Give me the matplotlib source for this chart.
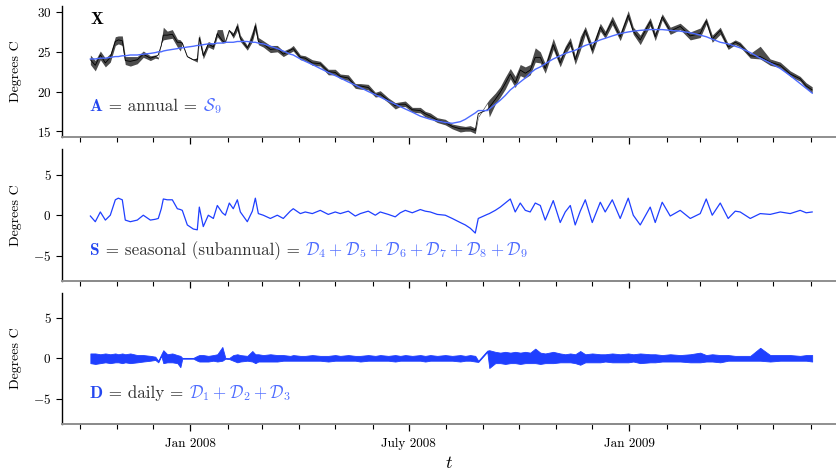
import numpy as np
import matplotlib
matplotlib.use("Agg")
import matplotlib.pyplot as plt
import matplotlib.dates as mdates
import matplotlib.transforms as mtransforms
from datetime import datetime

plt.rcParams.update({
    "font.family": "serif",
    "font.serif": ["cmr10"],
    "mathtext.fontset": "cm",
    "axes.formatter.use_mathtext": True,
})

# days since 2008-01-01
day = [-83.3, -79.2, -75.0, -70.8, -66.7, -62.5, -60.0, -56.7, -54.2, -50.0,
       -44.2, -39.2, -33.3, -29.2, -26.7, -24.2, -22.5, -19.2, -15.0, -10.8,
       -8.3, -6.7, -2.5, 2.5, 5.8, 7.5, 10.8, 15.0, 19.2, 22.5,
       26.7, 29.2, 32.5, 35.8, 39.2, 41.7, 47.5, 51.7, 54.2, 56.7,
       60.8, 66.7, 72.5, 77.5, 83.3, 85.8, 91.7, 95.8, 101.7, 108.3,
       115.0, 120.8, 125.0, 131.7, 137.5, 141.7, 148.3, 154.2, 158.3, 165.0,
       170.8, 175.0, 179.2, 185.0, 191.7, 195.8, 200.0, 205.8, 212.5, 218.3,
       225.0, 229.2, 233.3, 237.5, 240.0, 247.5, 249.2, 254.2, 258.3, 262.5,
       266.7, 270.8, 275.0, 279.2, 283.3, 287.5, 291.7, 295.8, 302.5, 308.3,
       312.5, 316.7, 320.8, 325.0, 329.2, 335.0, 341.7, 345.8, 351.7, 358.3,
       365.0, 369.2, 375.0, 383.3, 387.5, 393.3, 400.0, 408.3, 416.7, 425.0,
       430.0, 435.0, 441.7, 448.3, 454.2, 458.3, 466.7, 475.0, 483.3, 491.7,
       500.0, 508.3, 513.3, 518.3]

# annual component (deg C)
annual = [24.1, 24.1, 24.2, 24.2, 24.3, 24.4, 24.4, 24.5, 24.5, 24.6,
          24.6, 24.7, 24.8, 24.9, 25.0, 25.0, 25.1, 25.2, 25.3, 25.4,
          25.5, 25.5, 25.6, 25.7, 25.8, 25.8, 25.9, 26.0, 26.0, 26.1,
          26.1, 26.2, 26.2, 26.2, 26.3, 26.3, 26.3, 26.2, 26.2, 26.1,
          26.0, 25.7, 25.4, 25.1, 24.7, 24.6, 24.1, 23.8, 23.4, 22.9,
          22.4, 22.0, 21.7, 21.2, 20.8, 20.5, 20.0, 19.6, 19.3, 18.8,
          18.4, 18.1, 17.8, 17.4, 16.9, 16.7, 16.5, 16.3, 16.1, 16.0,
          16.2, 16.5, 16.9, 17.3, 17.6, 17.6, 17.8, 18.4, 18.9, 19.5,
          20.2, 20.7, 21.2, 21.7, 22.3, 22.8, 23.1, 23.5, 24.1, 24.5,
          24.8, 25.0, 25.2, 25.5, 25.8, 26.1, 26.5, 26.7, 27.0, 27.3,
          27.5, 27.6, 27.7, 27.8, 27.8, 27.8, 27.7, 27.6, 27.4, 27.1,
          26.9, 26.6, 26.2, 26.0, 25.7, 25.5, 24.9, 24.2, 23.6, 22.9,
          22.0, 21.0, 20.4, 19.8]

# seasonal (subannual) component (deg C)
seasonal = [-0.1, -0.8, 0.4, -0.6, 0.0, 1.9, 2.1, 1.9, -0.6, -0.8,
            -0.6, 0.0, -0.6, -0.5, -0.4, 0.8, 2.0, 1.9, 1.9, 0.8,
            0.7, 0.6, -1.2, -1.7, -1.8, 1.0, -1.4, 0.0, -0.4, 1.2,
            0.3, 0.0, 1.5, 0.8, 1.9, 0.4, -0.8, 0.5, 2.1, 0.2,
            0.0, -0.4, 0.0, -0.4, 0.5, 0.8, 0.2, 0.4, 0.2, 0.6,
            0.1, 0.4, 0.2, 0.5, -0.1, 0.2, 0.5, 0.0, 0.4, 0.1,
            -0.2, 0.3, 0.6, 0.3, 0.7, 0.5, 0.4, 0.1, 0.0, -0.4,
            -0.9, -1.2, -1.6, -2.2, -0.4, 0.1, 0.2, 0.6, 1.0, 1.5,
            2.0, 0.4, 1.5, 0.6, 0.4, 1.5, 1.2, -0.6, 1.8, -0.9,
            0.4, 1.2, -1.2, 0.5, 1.9, -0.9, 1.6, 0.4, 1.9, -0.4,
            2.1, 0.0, -1.2, 1.0, -0.9, 1.6, -0.1, 0.6, -0.4, 0.2,
            2.0, 0.0, 1.5, -0.4, 0.5, 0.4, -0.4, 0.2, 0.1, 0.4,
            0.2, 0.6, 0.3, 0.4]

# daily component: upper / lower envelope of the hourly signal (deg C)
daily_hi = [0.6, 0.6, 0.5, 0.6, 0.5, 0.6, 0.5, 0.6, 0.5, 0.6,
            0.4, 0.4, 0.3, 0.2, -0.3, 0.5, 1.0, 0.5, 0.6, 0.4,
            0.3, 0.05, 0.05, 0.05, 0.3, 0.4, 0.4, 0.3, 0.4, 0.5,
            1.4, 0.05, 0.05, 0.4, 0.5, 0.4, 0.3, 0.9, 0.5, 0.5,
            0.4, 0.5, 0.4, 0.4, 0.3, 0.4, 0.3, 0.3, 0.4, 0.3,
            0.3, 0.4, 0.3, 0.4, 0.3, 0.3, 0.4, 0.3, 0.4, 0.3,
            0.4, 0.3, 0.4, 0.3, 0.4, 0.3, 0.4, 0.3, 0.4, 0.3,
            0.4, 0.3, 0.4, 0.3, -0.3, 0.95, 1.0, 0.8, 0.7, 0.8,
            0.7, 0.8, 0.7, 0.8, 0.7, 1.2, 0.7, 0.6, 0.8, 0.6,
            0.5, 0.6, 0.5, 0.9, 0.5, 0.6, 0.5, 0.5, 0.6, 0.5,
            0.6, 0.5, 0.6, 0.5, 0.5, 0.4, 0.5, 0.4, 0.5, 0.7,
            0.4, 0.5, 0.4, 0.4, 0.3, 0.3, 0.3, 1.3, 0.4, 0.4,
            0.4, 0.3, 0.4, 0.4]
daily_lo = [-0.6, -0.7, -0.6, -0.5, -0.6, -0.5, -0.5, -0.6, -0.5, -0.6,
            -0.5, -0.4, -0.3, -0.2, -0.5, 0.3, -0.6, -0.5, -0.5, -0.6,
            -1.1, -0.05, -0.05, -0.05, -0.3, -0.4, -0.4, -0.4, -0.3, -0.4,
            -0.3, -0.05, -0.1, -0.3, -0.5, -0.4, -0.3, -0.4, -0.6, -0.4,
            -0.4, -0.4, -0.4, -0.3, -0.3, -0.3, -0.3, -0.3, -0.3, -0.3,
            -0.4, -0.3, -0.3, -0.3, -0.3, -0.4, -0.3, -0.3, -0.3, -0.3,
            -0.4, -0.3, -0.3, -0.3, -0.3, -0.4, -0.3, -0.3, -0.3, -0.3,
            -0.4, -0.3, -0.3, -0.4, -0.45, 0.8, -1.2, -0.6, -0.6, -0.7,
            -0.6, -0.6, -0.7, -0.6, -0.6, -0.6, -0.7, -0.6, -0.6, -0.5,
            -0.5, -0.5, -0.6, -0.8, -0.5, -0.5, -0.5, -0.4, -0.5, -0.5,
            -0.5, -0.4, -0.6, -0.5, -0.5, -0.4, -0.4, -0.4, -0.5, -0.5,
            -0.4, -0.4, -0.5, -0.3, -0.3, -0.3, -0.3, -0.3, -0.4, -0.3,
            -0.3, -0.3, -0.3, -0.4]

tick_dates = [datetime(2008, 1, 1), datetime(2008, 7, 1), datetime(2009, 1, 1)]
tick_labels = ["Jan 2008", "July 2008", "Jan 2009"]

assert len(day) == len(annual) == len(seasonal) == len(daily_hi) == len(daily_lo)

t = mdates.date2num(datetime(2008, 1, 1)) + np.array(day)
A = np.array(annual)
S = np.array(seasonal)
D_hi = np.array(daily_hi)
D_lo = np.array(daily_lo)
X_hi = A + S + D_hi
X_lo = A + S + D_lo

BLUE = "#1f3fff"
BLUE_TXT = "#2447f0"
BLUE_LIGHT = "#4d6bff"
GREY_TXT = "#333333"
LABEL_SIZE = 12.3

fig = plt.figure(figsize=(8.37, 4.73), dpi=100)
left, width = 0.074, 0.926
ax1 = fig.add_axes([left, 0.710, width, 0.277])
ax2 = fig.add_axes([left, 0.406, width, 0.278], sharex=ax1)
ax3 = fig.add_axes([left, 0.104, width, 0.277], sharex=ax1)

# observed series X (hourly spread shown as a band) and the annual part
ax1.fill_between(t, X_lo, X_hi, color="black", alpha=0.7, lw=0)
ax1.plot(t, A + S, color="black", lw=0.6)
ax1.plot(t, A, color=BLUE_LIGHT, lw=1.0)
ax1.set_ylim(14.25, 30.75)
ax1.set_yticks([15, 20, 25, 30])

ax2.plot(t, S, color=BLUE, lw=0.9)
ax2.set_ylim(-8.1, 8.1)
ax2.set_yticks([-5, 0, 5])

ax3.fill_between(t, D_lo, D_hi, color=BLUE, lw=0.6)
ax3.set_ylim(-8.1, 8.1)
ax3.set_yticks([-5, 0, 5])

first_tick = mdates.date2num(datetime(2007, 10, 1))
last_tick = mdates.date2num(datetime(2009, 6, 1))
ax1.set_xlim(mdates.date2num(datetime(2007, 9, 16)),
             mdates.date2num(datetime(2009, 6, 23)))

for ax in (ax1, ax2, ax3):
    for side in ("top", "right"):
        ax.spines[side].set_visible(False)
    ax.spines["left"].set_linewidth(1.0)
    ax.spines["bottom"].set_color("#8f8f8f")
    ax.spines["bottom"].set_linewidth(1.4)
    # range frame: dark between first and last tick
    ax.plot([first_tick, last_tick], [0, 0], color="black", lw=1.4,
            transform=ax.get_xaxis_transform(), clip_on=False, solid_capstyle="butt")
    ax.set_xticks(mdates.date2num(tick_dates))
    ax.xaxis.set_minor_locator(mdates.MonthLocator())
    ax.tick_params(axis="x", which="major", length=5, width=0.9, labelsize=9.5, pad=5)
    ax.tick_params(axis="x", which="minor", length=3.5, width=0.8)
    ax.tick_params(axis="y", length=4.5, width=0.8, labelsize=9.5, pad=3)
    ax.set_ylabel("Degrees C", fontsize=10)
    ax.yaxis.set_label_coords(-0.052, 0.5)
    if ax is not ax3:
        ax.tick_params(axis="x", labelbottom=False)

ax3.set_xticklabels(tick_labels)
ax3.set_xlabel("$t$", fontsize=13, labelpad=4)

ax1.text(0.036, 0.90, r"$\mathbf{X}$", transform=ax1.transAxes,
         fontsize=LABEL_SIZE, va="center", ha="left", color="black")

renderer = fig.canvas.get_renderer()


def label_parts(ax, x, y, parts, size=LABEL_SIZE):
    trans = ax.transAxes
    for s, c in parts:
        txt = ax.text(x, y, s, color=c, fontsize=size, transform=trans,
                      va="baseline", ha="left")
        ext = txt.get_window_extent(renderer=renderer)
        trans = mtransforms.offset_copy(txt.get_transform(), x=ext.width, units="dots")


label_parts(ax1, 0.035, 0.198, [
    (r"$\mathbf{A}$", BLUE_TXT),
    (" = annual = ", GREY_TXT),
    (r"$\mathcal{S}_9$", BLUE_LIGHT),
])
label_parts(ax2, 0.035, 0.20, [
    (r"$\mathbf{S}$", BLUE_TXT),
    (" = seasonal (subannual) = ", GREY_TXT),
    (r"$\mathcal{D}_4+\mathcal{D}_5+\mathcal{D}_6+\mathcal{D}_7+\mathcal{D}_8+\mathcal{D}_9$", BLUE_LIGHT),
])
label_parts(ax3, 0.035, 0.198, [
    (r"$\mathbf{D}$", BLUE_TXT),
    (" = daily = ", GREY_TXT),
    (r"$\mathcal{D}_1+\mathcal{D}_2+\mathcal{D}_3$", BLUE_LIGHT),
])

fig.savefig("out.png", dpi=100)
